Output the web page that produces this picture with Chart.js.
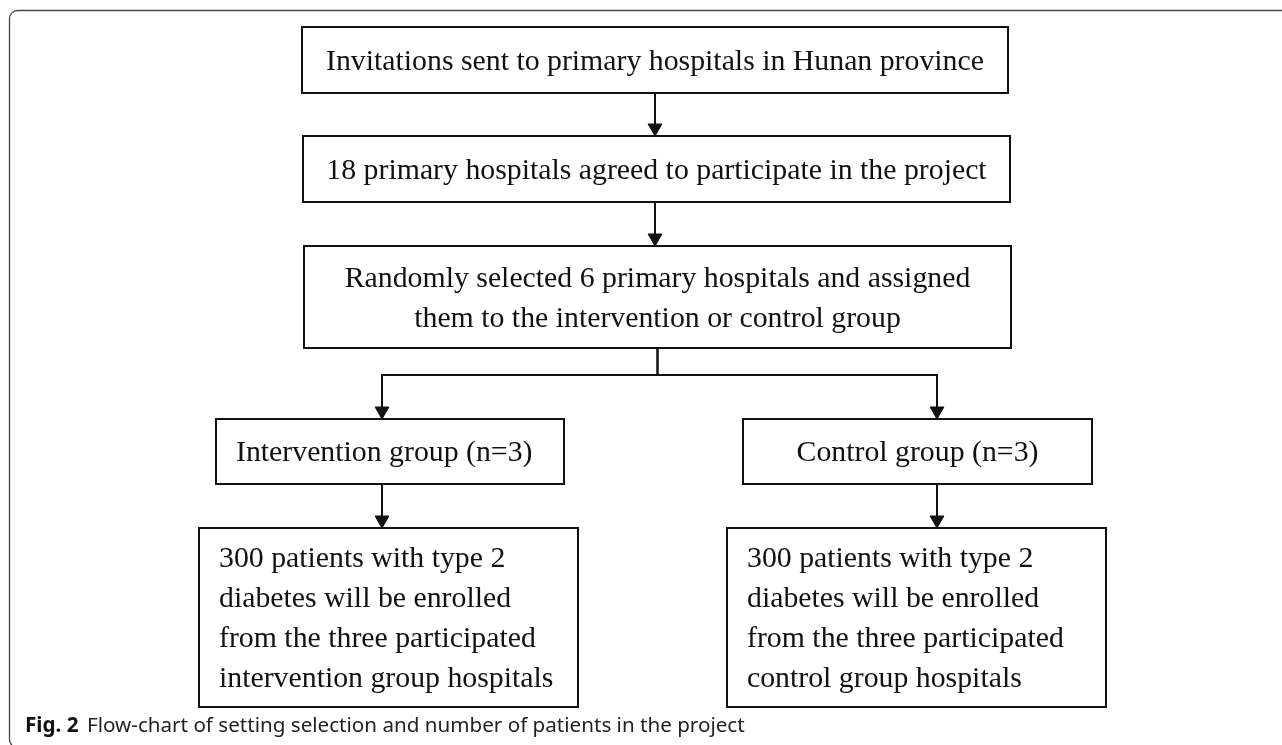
<!DOCTYPE html>
<html>
<head>
<meta charset="utf-8">
<script src="https://cdn.jsdelivr.net/npm/chart.js@4.4.1/dist/chart.umd.min.js"></script>
<style>
  html, body { margin: 0; padding: 0; background: #fff; }
  canvas { display: block; }
</style>
</head>
<body>
<canvas id="myChart" width="1282" height="745"></canvas>
<script>
// flow chart content
var nodeText = [
  ['Invitations sent to primary hospitals in Hunan province'],
  ['18 primary hospitals agreed to participate in the project'],
  ['Randomly selected 6 primary hospitals and assigned', 'them to the intervention or control group'],
  ['Intervention group (n=3)'],
  ['Control group (n=3)'],
  ['300 patients with type 2', 'diabetes will be enrolled', 'from the three participated', 'intervention group hospitals'],
  ['300 patients with type 2', 'diabetes will be enrolled', 'from the three participated', 'control group hospitals']
];
var edgeFrom = [0, 1, 2, 2, 3, 4];
var edgeTo   = [1, 2, 3, 4, 5, 6];
var captionBold = 'Fig. 2';
var captionText = 'Flow-chart of setting selection and number of patients in the project';

// layout (scale units = pixels)
var boxes = [
  { x0: 302, y0: 27,  x1: 1008, y1: 93,  align: 'center' },
  { x0: 303, y0: 136, x1: 1010, y1: 202, align: 'center' },
  { x0: 304, y0: 246, x1: 1011, y1: 348, align: 'center' },
  { x0: 216, y0: 419, x1: 564,  y1: 484, align: 'left' },
  { x0: 743, y0: 419, x1: 1092, y1: 484, align: 'center' },
  { x0: 199, y0: 528, x1: 578,  y1: 707, align: 'left' },
  { x0: 727, y0: 528, x1: 1106, y1: 707, align: 'left' }
];
var edgeLane = [655, 655, 382, 937, 382, 937];
var branchY = 375;
var arrowR = 8;
var serif = '29.8px "Liberation Serif", "Times New Roman", serif';
var sans = '"Noto Sans", "Open Sans", sans-serif';

// build one line per edge from the box layout
var datasets = edgeFrom.map(function (f, i) {
  var s = boxes[f], t = boxes[edgeTo[i]];
  var pts;
  if (edgeFrom.filter(function (v) { return v === f; }).length > 1) {
    var sx = (s.x0 + s.x1) / 2;
    pts = [{ x: sx, y: s.y1 }, { x: sx, y: branchY }, { x: edgeLane[i], y: branchY }, { x: edgeLane[i], y: t.y0 - arrowR }];
  } else {
    pts = [{ x: edgeLane[i], y: s.y1 }, { x: edgeLane[i], y: t.y0 - arrowR }];
  }
  return {
    data: pts,
    showLine: true,
    borderColor: '#111',
    borderWidth: 2,
    pointStyle: 'triangle',
    rotation: 180,
    pointBackgroundColor: '#111',
    pointBorderColor: '#111',
    pointBorderWidth: 1,
    pointRadius: function (c) { return c.dataIndex === pts.length - 1 ? arrowR : 0; }
  };
});

var flowBoxes = {
  id: 'flowBoxes',
  beforeDatasetsDraw: function (chart) {
    var ctx = chart.ctx, xs = chart.scales.x, ys = chart.scales.y;
    ctx.save();
    // outer frame (runs off the right and bottom edges)
    ctx.strokeStyle = '#444';
    ctx.lineWidth = 1.3;
    ctx.beginPath();
    ctx.roundRect(xs.getPixelForValue(9.5), ys.getPixelForValue(10.5), 1300, 737, 8);
    ctx.stroke();

    boxes.forEach(function (b, i) {
      var px0 = xs.getPixelForValue(b.x0), px1 = xs.getPixelForValue(b.x1);
      var py0 = ys.getPixelForValue(b.y0), py1 = ys.getPixelForValue(b.y1);
      ctx.strokeStyle = '#111';
      ctx.lineWidth = 2;
      ctx.strokeRect(px0, py0, px1 - px0, py1 - py0);
      var lines = nodeText[i];
      var cy = (py0 + py1) / 2;
      ctx.font = serif;
      ctx.fillStyle = '#111';
      ctx.textBaseline = 'alphabetic';
      ctx.textAlign = b.align;
      var tx = b.align === 'left' ? px0 + 20 : (px0 + px1) / 2;
      lines.forEach(function (ln, k) {
        ctx.fillText(ln, tx, cy - (lines.length - 1) * 20 + k * 40 + 9.7);
      });
    });

    // caption, regular part stretched to the width it has in the figure
    ctx.textAlign = 'left';
    var cyb = ys.getPixelForValue(731.5);
    ctx.font = '20px ' + sans;
    var fs = 20 * 658 / ctx.measureText(captionText).width;
    ctx.font = 'bold ' + fs.toFixed(2) + 'px ' + sans;
    ctx.fillStyle = '#111';
    ctx.fillText(captionBold, xs.getPixelForValue(25), cyb);
    ctx.font = fs.toFixed(2) + 'px ' + sans;
    ctx.fillStyle = '#222';
    ctx.fillText(captionText, xs.getPixelForValue(87), cyb);
    ctx.restore();
  }
};

var chart = new Chart(document.getElementById('myChart').getContext('2d'), {
  type: 'scatter',
  data: { datasets: datasets },
  options: {
    responsive: false,
    devicePixelRatio: 1,
    animation: false,
    events: [],
    layout: { padding: 0, autoPadding: false },
    plugins: { legend: { display: false }, tooltip: { enabled: false } },
    scales: {
      x: { type: 'linear', min: 0, max: 1282, display: false },
      y: { type: 'linear', min: 0, max: 745, reverse: true, display: false }
    }
  },
  plugins: [flowBoxes]
});
</script>
</body>
</html>
